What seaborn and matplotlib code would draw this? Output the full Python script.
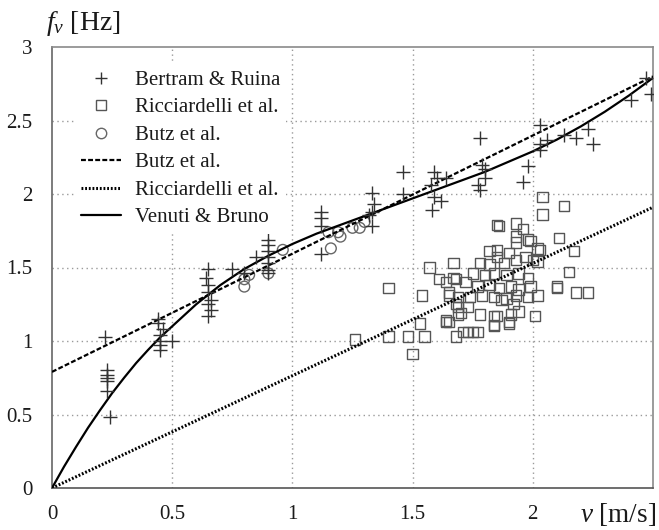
import numpy as np
import pandas as pd
import matplotlib
matplotlib.use("Agg")
import matplotlib.pyplot as plt
from matplotlib.lines import Line2D
import seaborn as sns

sns.set_theme(style="white")
plt.rcParams["font.family"] = ["Liberation Serif", "DejaVu Serif"]
plt.rcParams["mathtext.fontset"] = "custom"
plt.rcParams["mathtext.it"] = "Liberation Serif:italic"
plt.rcParams["mathtext.rm"] = "Liberation Serif"

# Bertram & Ruina measurements (speed v [m/s], frequency f [Hz])
bertram_v = [0.22, 0.23, 0.23, 0.23, 0.23, 0.23, 0.24,
             0.44, 0.44, 0.45, 0.45, 0.45, 0.45, 0.46, 0.50,
             0.65, 0.64, 0.65, 0.65, 0.66, 0.65, 0.66, 0.65,
             0.75, 0.85, 0.80,
             0.90, 0.90, 0.90, 0.90, 0.90, 0.90, 0.90,
             1.12, 1.12, 1.12, 1.12,
             1.33, 1.34, 1.33, 1.32, 1.33,
             1.46, 1.46,
             1.59, 1.575, 1.59, 1.58, 1.60, 1.64, 1.62,
             1.78, 1.79, 1.80, 1.80, 1.77, 1.78,
             1.98, 1.96,
             2.03, 2.03, 2.06, 2.03,
             2.13, 2.18, 2.23, 2.25,
             2.41, 2.47, 2.49]
bertram_f = [1.03, 0.80, 0.77, 0.75, 0.73, 0.66, 0.48,
             1.15, 1.12, 1.04, 1.00, 0.97, 0.94, 1.08, 1.00,
             1.49, 1.43, 1.38, 1.33, 1.28, 1.25, 1.21, 1.17,
             1.49, 1.57, 1.46,
             1.69, 1.65, 1.61, 1.57, 1.53, 1.48, 1.46,
             1.88, 1.84, 1.78, 1.59,
             2.01, 1.93, 1.88, 1.86, 1.78,
             2.15, 2.00,
             2.15, 2.06, 1.98, 1.89, 2.11, 2.11, 1.95,
             2.38, 2.20, 2.17, 2.11, 2.06, 2.03,
             2.19, 2.08,
             2.47, 2.34, 2.37, 2.30,
             2.40, 2.38, 2.44, 2.34,
             2.64, 2.79, 2.68]

# Ricciardelli et al. measurements
ricc_v = [1.26, 1.40, 1.40, 1.48, 1.55, 1.50, 1.53, 1.54, 1.57, 1.61,
          1.64, 1.65, 1.64, 1.65, 1.65, 1.64, 1.67, 1.67, 1.68, 1.68,
          1.68, 1.69, 1.69, 1.69, 1.70, 1.71, 1.73, 1.75, 1.77, 1.72,
          1.73, 1.74, 1.75, 1.77, 1.78, 1.78, 1.79, 1.80, 1.82, 1.82,
          1.82, 1.84, 1.84, 1.84, 1.84, 1.84, 1.85, 1.86, 1.85, 1.85,
          1.85, 1.86, 1.87, 1.88, 1.89, 1.89, 1.90, 1.90, 1.90, 1.91,
          1.91, 1.92, 1.93, 1.93, 1.93, 1.93, 1.93, 1.94, 1.94, 1.94,
          1.96, 1.97, 1.98, 1.98, 1.98, 1.99, 1.99, 2.00, 2.01, 2.02,
          2.02, 2.02, 2.03, 2.04, 2.04, 2.10, 2.10, 2.11, 2.13, 2.15,
          2.17, 2.18, 2.23]
ricc_f = [1.01, 1.36, 1.03, 1.03, 1.03, 0.91, 1.12, 1.31, 1.50, 1.42,
          1.13, 1.13, 1.40, 1.31, 1.33, 1.14, 1.53, 1.43, 1.42, 1.03,
          1.25, 1.30, 1.23, 1.18, 1.19, 1.06, 1.06, 1.06, 1.06, 1.40,
          1.23, 1.30, 1.46, 1.37, 1.53, 1.18, 1.31, 1.45, 1.61, 1.52,
          1.38, 1.46, 1.30, 1.17, 1.11, 1.10, 1.79, 1.78, 1.57, 1.62,
          1.17, 1.36, 1.28, 1.53, 1.45, 1.29, 1.60, 1.13, 1.12, 1.37,
          1.18, 1.25, 1.80, 1.71, 1.67, 1.55, 1.31, 1.46, 1.35, 1.20,
          1.76, 1.57, 1.69, 1.43, 1.30, 1.68, 1.37, 1.55, 1.17, 1.63,
          1.54, 1.31, 1.62, 1.98, 1.86, 1.37, 1.36, 1.70, 1.92, 1.47,
          1.61, 1.33, 1.33]

# Butz et al. measurements
butz_v = [0.80, 0.82, 0.80, 0.90, 0.96, 1.16, 1.15, 1.19, 1.20, 1.25, 1.28, 1.30]
butz_f = [1.42, 1.45, 1.37, 1.46, 1.62, 1.63, 1.74, 1.74, 1.71, 1.77, 1.77, 1.81]

# Fitted laws
butz_fit_v = [0.0, 2.5]
butz_fit_f = [0.79, 2.80]
ricc_fit_v = [0.0, 2.5]
ricc_fit_f = [0.0, 1.91]
venuti_v = [0.0, 0.05, 0.1, 0.15, 0.2, 0.25, 0.3, 0.35, 0.4, 0.45, 0.5, 0.6,
            0.7, 0.8, 0.9, 1.0, 1.1, 1.2, 1.3, 1.4, 1.5, 1.6, 1.7, 1.8, 1.9,
            2.0, 2.1, 2.2, 2.3, 2.4, 2.5]
venuti_f = [0.00, 0.145, 0.28, 0.41, 0.53, 0.645, 0.75, 0.85, 0.94, 1.025,
            1.10, 1.25, 1.38, 1.49, 1.58, 1.66, 1.73, 1.79, 1.85, 1.91, 1.97,
            2.03, 2.09, 2.15, 2.22, 2.29, 2.37, 2.46, 2.56, 2.67, 2.79]

legend_labels = ["Bertram & Ruina", "Ricciardelli et al.", "Butz et al.",
                 "Butz et al.", "Ricciardelli et al.", "Venuti & Bruno"]

fig = plt.figure(figsize=(6.59, 5.30), dpi=100)
ax = fig.add_axes([52 / 659, 42 / 530, 601 / 659, 441 / 530])

grid_kw = dict(color="#9a9a9a", linestyle=(0, (1, 2.5)), linewidth=1.0, zorder=0)
for gx in [0.5, 1.0, 1.5, 2.0]:
    ax.axvline(gx, **grid_kw)
for gy in [0.5, 1.0, 1.5, 2.0, 2.5]:
    ax.axhline(gy, **grid_kw)

sns.lineplot(x=ricc_fit_v, y=ricc_fit_f, ax=ax, color="black",
             linestyle=(0, (0.6, 0.6)), linewidth=2.2, estimator=None, zorder=3)
sns.lineplot(x=butz_fit_v, y=butz_fit_f, ax=ax, color="black",
             linestyle=(0, (2.2, 1.0)), linewidth=1.6, estimator=None, zorder=3)
sns.lineplot(x=venuti_v, y=venuti_f, ax=ax, color="black",
             linestyle="-", linewidth=1.6, estimator=None, zorder=3)

sns.scatterplot(x=ricc_v, y=ricc_f, ax=ax, marker="s", s=55,
                facecolor="none", edgecolor="#555555", linewidth=1.0, zorder=2)
sns.scatterplot(x=butz_v, y=butz_f, ax=ax, marker="o", s=60,
                facecolor="none", edgecolor="#666666", linewidth=1.0, zorder=2)
sns.scatterplot(x=bertram_v, y=bertram_f, ax=ax, marker="+", s=90,
                color="#333333", linewidth=1.0, zorder=4)

ax.set_xlim(0, 2.5)
ax.set_ylim(0, 3)
ax.set_xticks([0, 0.5, 1, 1.5, 2])
ax.set_xticklabels(["0", "0.5", "1", "1.5", "2"])
ax.set_yticks([0, 0.5, 1, 1.5, 2, 2.5, 3])
ax.set_yticklabels(["0", "0.5", "1", "1.5", "2", "2.5", "3"])
ax.tick_params(axis="both", length=0, labelsize=15, colors="#1a1a1a")
ax.tick_params(axis="y", pad=14)
ax.tick_params(axis="x", pad=12)
for side, sp in ax.spines.items():
    sp.set_color("#8a8a8a")
    sp.set_linewidth(1.2)
ax.spines["bottom"].set_color("#555555")
ax.spines["left"].set_color("#666666")
ax.set_xlabel("")
ax.set_ylabel("")

fig.text(46 / 659, 1 - 24 / 530, r"$f_v$ [Hz]", fontsize=20, ha="left",
         va="center", color="#1a1a1a")
fig.text(656 / 659, 1 - 515 / 530, r"$v$ [m/s]", fontsize=19.5, ha="right",
         va="center", color="#1a1a1a")

handles = [
    Line2D([], [], marker="+", linestyle="none", color="#333333",
           markersize=9, markeredgewidth=1.0),
    Line2D([], [], marker="s", linestyle="none", markerfacecolor="none",
           markeredgecolor="#555555", markersize=7, markeredgewidth=1.0),
    Line2D([], [], marker="o", linestyle="none", markerfacecolor="none",
           markeredgecolor="#666666", markersize=7.5, markeredgewidth=1.0),
    Line2D([], [], color="black", linestyle=(0, (2.2, 1.0)), linewidth=1.6),
    Line2D([], [], color="black", linestyle=(0, (0.6, 0.6)), linewidth=2.2),
    Line2D([], [], color="black", linestyle="-", linewidth=1.6),
]
leg = ax.legend(handles, legend_labels, loc="upper left",
                bbox_to_anchor=(0.02, 0.985), frameon=True, fontsize=15,
                handlelength=1.95, handletextpad=0.65, labelspacing=0.38,
                borderpad=0.3, facecolor="white", edgecolor="none",
                framealpha=1.0)
for t in leg.get_texts():
    t.set_color("#1a1a1a")

fig.savefig("out.png", dpi=100, facecolor="white")
